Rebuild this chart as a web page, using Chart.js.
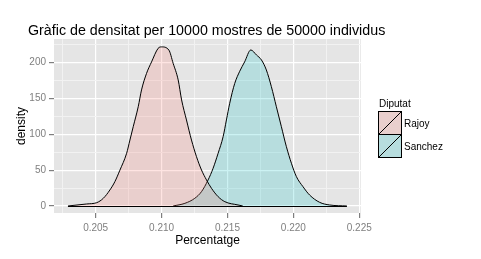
<!DOCTYPE html>
<html lang="ca">
<head>
<meta charset="UTF-8">
<title>Gràfic de densitat</title>
<script src="https://cdn.jsdelivr.net/npm/chart.js"></script>
<style>
  html, body { margin: 0; padding: 0; background: #ffffff; }
  #wrap { width: 481px; height: 259px; }
</style>
</head>
<body>
<div id="wrap"><canvas id="grafic" width="481" height="259"></canvas></div>
<script>
// valors llegits de la imatge
const diputats = ["Rajoy", "Sanchez"];
const rajoyX = [0.2029, 0.20432, 0.20508, 0.20558, 0.20608, 0.20646, 0.20684, 0.20735, 0.2076, 0.20785,
    0.20823, 0.20848, 0.20886, 0.20924, 0.20974, 0.2100, 0.21055, 0.21088, 0.21126, 0.21152,
    0.21189, 0.21227, 0.21265, 0.21303, 0.21341, 0.21379, 0.21429, 0.2148, 0.2158, 0.21616];
const rajoyY = [0, 2.8, 4.6, 10.7, 22.3, 34, 50, 73.5, 92, 110.6,
    138.5, 161.9, 185, 201, 220, 222, 217.7, 199, 176, 148,
    120, 92, 68.8, 50.2, 36.3, 24.6, 13, 6, 1.4, 0];
const sanchezX = [0.21088, 0.21177, 0.21252, 0.21303, 0.21353, 0.21391, 0.21429, 0.21467, 0.21492, 0.21517,
    0.21555, 0.21593, 0.2163, 0.21677, 0.2172, 0.21758, 0.21795, 0.21833, 0.21871, 0.21909,
    0.21947, 0.21985, 0.22023, 0.22073, 0.22123, 0.22199, 0.22275, 0.22406];
const sanchezY = [0, 3.7, 10.7, 20, 36.3, 52.6, 73.5, 96.7, 120, 143.3,
    171, 188, 201, 217.7, 210.7, 203.7, 189.8, 166.5, 138.5, 110.6,
    82.7, 59.6, 40.9, 26.9, 15.3, 5.1, 1.4, 0];
const xTicks = [0.205, 0.210, 0.215, 0.220, 0.225];
const yTicks = [0, 50, 100, 150, 200];

const colorsFons = ["rgba(248,118,109,0.2)", "rgba(0,191,196,0.2)"];
const colorsLlegenda = ["#E9CFCD", "#B7DDDE"];

function punts(xs, ys) {
    return xs.map((x, i) => ({ x: x, y: ys[i] }));
}

const esMajorX = v => xTicks.some(t => Math.abs(t - v) < 1e-7);
const esMajorY = v => yTicks.indexOf(v) !== -1;

// fons del panell, títol i llegenda a l'estil ggplot
const estilGgplot = {
    id: "estilGgplot",
    beforeDraw(chart) {
        const { ctx, chartArea: a } = chart;
        ctx.save();
        ctx.fillStyle = "#E5E5E5";
        ctx.fillRect(a.left, a.top, a.right - a.left, a.bottom - a.top);
        ctx.restore();
    },
    afterDatasetsDraw(chart) {
        // línia inferior de cada polígon de densitat
        const { ctx, scales } = chart;
        ctx.save();
        ctx.strokeStyle = "#000000";
        ctx.lineWidth = 1;
        [rajoyX, sanchezX].forEach(xs => {
            const y0 = Math.round(scales.y.getPixelForValue(0)) + 0.5;
            ctx.beginPath();
            ctx.moveTo(scales.x.getPixelForValue(xs[0]), y0);
            ctx.lineTo(scales.x.getPixelForValue(xs[xs.length - 1]), y0);
            ctx.stroke();
        });
        ctx.restore();
    },
    afterDraw(chart) {
        const ctx = chart.ctx;
        ctx.save();
        ctx.fillStyle = "#000000";
        ctx.textBaseline = "alphabetic";
        ctx.textAlign = "left";
        ctx.font = "14.25px 'Liberation Sans', Arial, sans-serif";
        ctx.fillText("Gràfic de densitat per 10000 mostres de 50000 individus", 28, 35);

        ctx.font = "10px 'Liberation Sans', Arial, sans-serif";
        ctx.fillText("Diputat", 379, 107);
        const kx = 378.5, kw = 23, kh = 23;
        diputats.forEach((nom, i) => {
            const ky = 111.5 + i * kh;
            ctx.fillStyle = colorsLlegenda[i];
            ctx.fillRect(kx, ky, kw, kh);
            ctx.strokeStyle = "#000000";
            ctx.lineWidth = 1;
            ctx.strokeRect(kx, ky, kw, kh);
            ctx.beginPath();
            ctx.moveTo(kx, ky + kh);
            ctx.lineTo(kx + kw, ky);
            ctx.stroke();
            ctx.fillStyle = "#000000";
            ctx.fillText(nom, 404, ky + kh / 2 + 3.8);
        });
        ctx.restore();
    }
};

new Chart(document.getElementById("grafic"), {
    type: "line",
    data: {
        datasets: [
            {
                label: diputats[0],
                data: punts(rajoyX, rajoyY),
                borderColor: "#000000",
                borderWidth: 1,
                backgroundColor: colorsFons[0],
                fill: "origin",
                pointRadius: 0,
                cubicInterpolationMode: "monotone"
            },
            {
                label: diputats[1],
                data: punts(sanchezX, sanchezY),
                borderColor: "#000000",
                borderWidth: 1,
                backgroundColor: colorsFons[1],
                fill: "origin",
                pointRadius: 0,
                cubicInterpolationMode: "monotone"
            }
        ]
    },
    options: {
        responsive: false,
        animation: false,
        layout: { padding: { top: 39, right: 120, left: 0, bottom: 0 } },
        plugins: {
            legend: { display: false },
            title: { display: false },
            tooltip: { enabled: false }
        },
        scales: {
            x: {
                type: "linear",
                min: 0.20184,
                max: 0.22513,
                afterFit(scale) { scale.height = 46; },
                border: { display: false },
                grid: {
                    color: c => esMajorX(c.tick.value) ? "#FFFFFF" : "#F2F2F2",
                    lineWidth: c => esMajorX(c.tick.value) ? 1.2 : 1,
                    tickColor: c => esMajorX(c.tick.value) ? "#7F7F7F" : "rgba(0,0,0,0)",
                    tickLength: 5
                },
                ticks: {
                    stepSize: 0.0025,
                    includeBounds: false,
                    autoSkip: false,
                    maxRotation: 0,
                    padding: 4,
                    color: "#7F7F7F",
                    font: { family: "'Liberation Sans', Arial, sans-serif", size: 10 },
                    callback: v => esMajorX(v) ? v.toFixed(3) : ""
                },
                title: {
                    display: true,
                    text: "Percentatge",
                    color: "#000000",
                    padding: { top: 0, bottom: 11 },
                    font: { family: "'Liberation Sans', Arial, sans-serif", size: 12 }
                }
            },
            y: {
                min: -9.8,
                max: 233,
                afterFit(scale) { scale.width = 54; },
                border: { display: false },
                grid: {
                    color: c => esMajorY(c.tick.value) ? "#FFFFFF" : "#F2F2F2",
                    lineWidth: c => esMajorY(c.tick.value) ? 1.2 : 1,
                    tickColor: c => esMajorY(c.tick.value) ? "#7F7F7F" : "rgba(0,0,0,0)",
                    tickLength: 5
                },
                ticks: {
                    stepSize: 25,
                    includeBounds: false,
                    autoSkip: false,
                    padding: 3,
                    color: "#7F7F7F",
                    font: { family: "'Liberation Sans', Arial, sans-serif", size: 10 },
                    callback: v => esMajorY(v) ? String(v) : ""
                },
                title: {
                    display: true,
                    text: "density",
                    color: "#000000",
                    padding: { top: 14, bottom: 0 },
                    font: { family: "'Liberation Sans', Arial, sans-serif", size: 12 }
                }
            }
        }
    },
    plugins: [estilGgplot]
});
</script>
</body>
</html>
